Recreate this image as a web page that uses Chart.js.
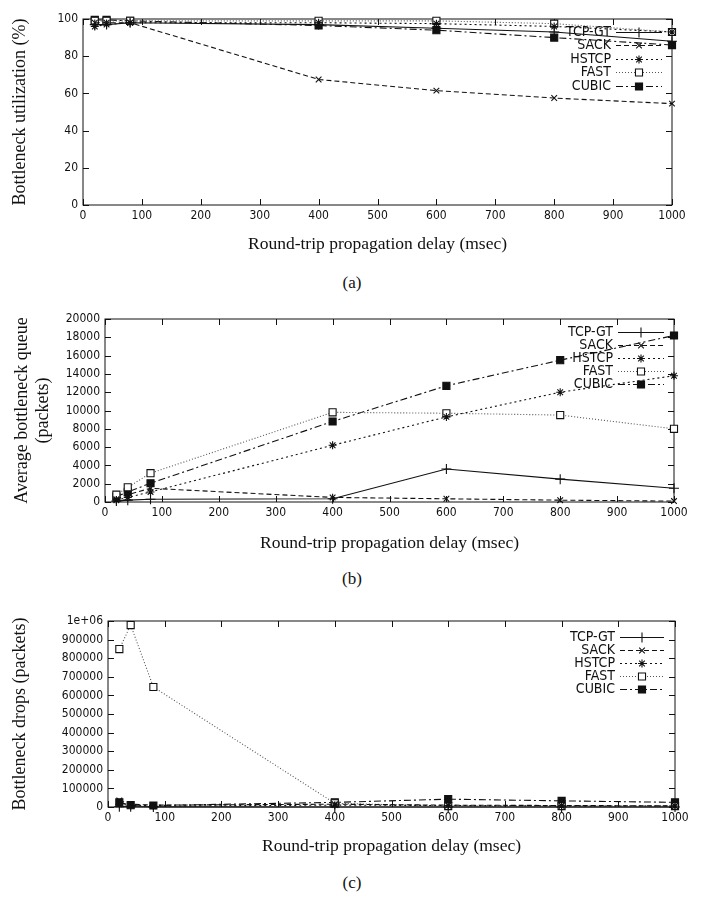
<!DOCTYPE html>
<html>
<head>
<meta charset="utf-8">
<script src="https://cdn.jsdelivr.net/npm/chart.js@4.4.1/dist/chart.umd.min.js"></script>
<style>
    body { margin: 0; background: #fff; width: 704px; height: 901px; position: relative; overflow: hidden; }
    .panel { position: absolute; left: 0; width: 704px; }
    .cap { position: absolute; left: 0; width: 704px; text-align: center; font-family: 'Liberation Serif', serif; font-size: 17px; color: #111; }
</style>
</head>
<body>
<div class="panel" style="top:0;height:262px"><canvas id="chartA" width="704" height="262"></canvas></div>
<div class="cap" style="top:273px">(a)</div>
<div class="panel" style="top:300px;height:260px"><canvas id="chartB" width="704" height="260"></canvas></div>
<div class="cap" style="top:569px">(b)</div>
<div class="panel" style="top:600px;height:262px"><canvas id="chartC" width="704" height="262"></canvas></div>
<div class="cap" style="top:873px">(c)</div>

<script>
// round-trip delays (msec)
const delays = [20, 40, 80, 400, 600, 800, 1000];
const seriesNames = ['TCP-GT', 'SACK', 'HSTCP', 'FAST', 'CUBIC'];

// (a) bottleneck utilization (%)
const utilTcpGt = [97, 97, 98, 97, 95, 93, 88];
const utilSack = [98, 98, 98, 67.5, 61.5, 57.5, 54.5];
const utilHstcp = [96, 97, 98, 98, 97.5, 96, 93];
const utilFast = [99, 99, 99, 99, 99, 97.5, 93];
const utilCubic = [99.5, 99.5, 99, 96.5, 94, 90, 86];

// (b) average bottleneck queue (packets)
const queueTcpGt = [100, 200, 300, 350, 3600, 2500, 1500];
const queueSack = [300, 800, 1500, 500, 350, 200, 100];
const queueHstcp = [200, 500, 1100, 6200, 9300, 12000, 13800];
const queueFast = [800, 1600, 3150, 9800, 9700, 9500, 8000];
const queueCubic = [600, 1100, 2050, 8800, 12700, 15500, 18200];

// (c) bottleneck drops (packets)
const dropsTcpGt = [2000, 1000, 500, 0, 0, 0, 0];
const dropsSack = [35000, 15000, 10000, 15000, 10000, 8000, 6000];
const dropsHstcp = [15000, 8000, 5000, 10000, 8000, 6000, 5000];
const dropsFast = [849000, 978000, 645000, 20000, 5000, 5000, 5000];
const dropsCubic = [25000, 10000, 8000, 25000, 42000, 33000, 25000];

const xTickStep = 100;
const topDropLabel = '1e+06';

const tickFont = { family: "'Liberation Sans Narrow', 'DejaVu Sans Condensed', sans-serif", size: 12 };
const titleFont = { family: "'Liberation Serif', serif", size: 17.5 };
const yTitleFont = { family: "'Liberation Serif', serif", size: 18 };
const ink = '#111';

const lineStyles = {
    'TCP-GT': { pointStyle: 'cross', borderDash: [], pointRadius: 5 },
    'SACK': { pointStyle: 'crossRot', borderDash: [5, 3], pointRadius: 4 },
    'HSTCP': { pointStyle: 'star', borderDash: [2, 3], pointRadius: 4 },
    'FAST': { pointStyle: 'rect', borderDash: [1, 2], pointRadius: 5, borderColor: '#555', pointBackgroundColor: '#fff' },
    'CUBIC': { pointStyle: 'rect', borderDash: [7, 3, 2, 3], pointRadius: 5, pointBackgroundColor: ink }
};

function makeDataset(name, values) {
    return Object.assign({
        label: name,
        data: delays.map((d, i) => ({ x: d, y: values[i] })),
        borderColor: ink,
        borderWidth: 1.1,
        pointBorderColor: ink,
        pointBorderWidth: 1.1,
        pointBackgroundColor: '#fff',
        tension: 0,
        fill: false,
        clip: false
    }, lineStyles[name]);
}

// gnuplot style box with inward ticks
const framePlugin = {
    id: 'frame',
    beforeDatasetsDraw(chart) {
        const { ctx, chartArea: a, scales } = chart;
        ctx.save();
        ctx.strokeStyle = ink;
        ctx.lineWidth = 1;
        ctx.strokeRect(a.left, a.top, a.right - a.left, a.bottom - a.top);
        ctx.beginPath();
        scales.x.ticks.forEach(t => {
            const px = Math.round(scales.x.getPixelForValue(t.value)) + 0.5;
            ctx.moveTo(px, a.bottom); ctx.lineTo(px, a.bottom - 6);
            ctx.moveTo(px, a.top); ctx.lineTo(px, a.top + 6);
        });
        scales.y.ticks.forEach(t => {
            const py = Math.round(scales.y.getPixelForValue(t.value)) + 0.5;
            ctx.moveTo(a.left, py); ctx.lineTo(a.left + 6, py);
            ctx.moveTo(a.right, py); ctx.lineTo(a.right - 6, py);
        });
        ctx.stroke();
        ctx.restore();
    }
};

// legend: label text then a line sample with its marker
const keyPlugin = {
    id: 'key',
    afterDraw(chart, args, opts) {
        const ctx = chart.ctx;
        ctx.save();
        ctx.font = "14px " + tickFont.family;
        ctx.textAlign = 'right';
        ctx.textBaseline = 'middle';
        chart.data.datasets.forEach((ds, i) => {
            const y = Math.round(opts.top + i * opts.gap);
            ctx.fillStyle = ink;
            ctx.fillText(ds.label, opts.textRight, y);
            ctx.strokeStyle = ds.borderColor;
            ctx.lineWidth = 1.1;
            ctx.setLineDash(ds.borderDash);
            ctx.beginPath();
            ctx.moveTo(opts.x1, y + 0.5);
            ctx.lineTo(opts.x2, y + 0.5);
            ctx.stroke();
            ctx.setLineDash([]);
            ctx.strokeStyle = ds.pointBorderColor;
            ctx.fillStyle = ds.pointBackgroundColor;
            Chart.helpers.drawPoint(ctx, {
                pointStyle: ds.pointStyle, radius: ds.pointRadius, rotation: 0, borderWidth: 1.1
            }, (opts.x1 + opts.x2) / 2, y + 0.5);
        });
        ctx.restore();
    }
};

function makeChart(id, cfg) {
    return new Chart(document.getElementById(id), {
        type: 'line',
        data: {
            datasets: seriesNames.map((n, i) => makeDataset(n, cfg.series[i]))
        },
        options: {
            responsive: false,
            animation: false,
            layout: { padding: { left: 0, right: cfg.padRight, top: cfg.padTop, bottom: 0 } },
            plugins: {
                legend: { display: false },
                tooltip: { enabled: false },
                key: cfg.key
            },
            scales: {
                x: {
                    type: 'linear',
                    min: 0,
                    max: 1000,
                    ticks: {
                        stepSize: xTickStep, font: tickFont, color: ink, padding: 4, maxRotation: 0,
                        callback: v => String(v)
                    },
                    grid: { display: false, drawTicks: false },
                    border: { display: false },
                    title: {
                        display: true,
                        text: 'Round-trip propagation delay (msec)',
                        font: titleFont,
                        color: ink,
                        padding: { top: 0, bottom: cfg.xTitlePad }
                    },
                    afterFit: scale => { scale.height = cfg.xAxisHeight; }
                },
                y: {
                    min: 0,
                    max: cfg.yMax,
                    ticks: {
                        stepSize: cfg.yStep,
                        font: tickFont,
                        color: ink,
                        padding: 5,
                        callback: cfg.yLabel || (v => String(v))
                    },
                    grid: { display: false, drawTicks: false },
                    border: { display: false },
                    title: {
                        display: true,
                        text: cfg.yTitle,
                        font: yTitleFont,
                        color: ink,
                        padding: { top: cfg.yTitlePad, bottom: 0 }
                    },
                    afterFit: scale => { scale.width = cfg.yAxisWidth; }
                }
            }
        },
        plugins: [framePlugin, keyPlugin]
    });
}

makeChart('chartA', {
    series: [utilTcpGt, utilSack, utilHstcp, utilFast, utilCubic],
    yMax: 100, yStep: 20,
    yTitle: 'Bottleneck utilization (%)',
    yAxisWidth: 83, padRight: 32, padTop: 19, xAxisHeight: 57,
    xTitlePad: 7.5, yTitlePad: 9,
    key: { textRight: 611, x1: 616, x2: 662, top: 32, gap: 13.4 }
});

makeChart('chartB', {
    series: [queueTcpGt, queueSack, queueHstcp, queueFast, queueCubic],
    yMax: 20000, yStep: 2000,
    yTitle: ['Average bottleneck queue', '(packets)'],
    yAxisWidth: 105, padRight: 30, padTop: 19, xAxisHeight: 58,
    xTitlePad: 6.5, yTitlePad: 11,
    key: { textRight: 613, x1: 618, x2: 664, top: 32, gap: 13 }
});

makeChart('chartC', {
    series: [dropsTcpGt, dropsSack, dropsHstcp, dropsFast, dropsCubic],
    yMax: 1000000, yStep: 100000,
    yLabel: v => (v === 1000000 ? topDropLabel : String(v)),
    yTitle: 'Bottleneck drops (packets)',
    yAxisWidth: 108, padRight: 29, padTop: 21, xAxisHeight: 55,
    xTitlePad: 5.5, yTitlePad: 9,
    key: { textRight: 615, x1: 620, x2: 664, top: 37, gap: 13 }
});
</script>
</body>
</html>
